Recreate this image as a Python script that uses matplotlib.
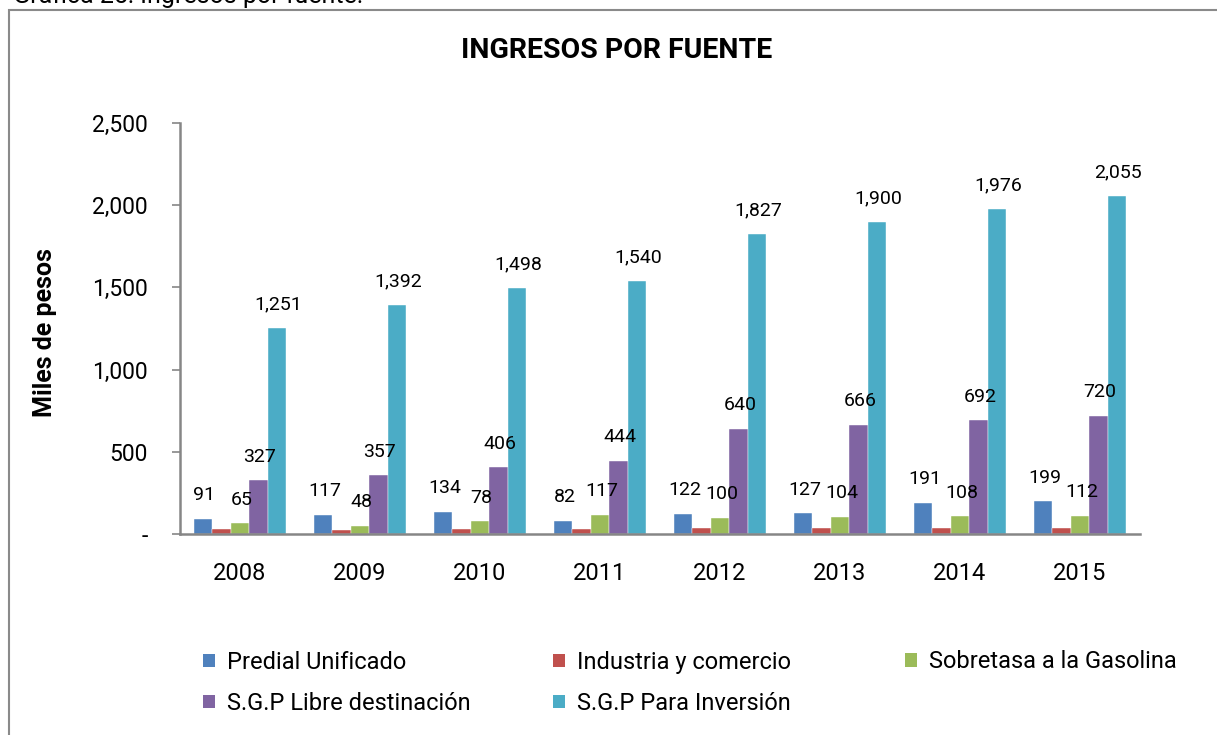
import numpy as np
import matplotlib
matplotlib.use("Agg")
import matplotlib.pyplot as plt
from matplotlib.patches import Rectangle, Patch
from matplotlib.ticker import FuncFormatter

plt.rcParams['font.family'] = ['Roboto', 'DejaVu Sans']

# ---- data ----
years = ['2008', '2009', '2010', '2011', '2012', '2013', '2014', '2015']
predial = [91, 117, 134, 82, 122, 127, 191, 199]
industria = [30, 22, 30, 30, 34, 34, 34, 34]
sobretasa = [65, 48, 78, 117, 100, 104, 108, 112]
sgp_libre = [327, 357, 406, 444, 640, 666, 692, 720]
sgp_inversion = [1251, 1392, 1498, 1540, 1827, 1900, 1976, 2055]

series_names = ['Predial Unificado', 'Industria y comercio', 'Sobretasa a la Gasolina',
                'S.G.P Libre destinación', 'S.G.P Para Inversión']
series_vals = [predial, industria, sobretasa, sgp_libre, sgp_inversion]
series_labelled = [True, False, True, True, True]
colors = ['#4F81BD', '#C0504D', '#9BBB59', '#8064A2', '#4BACC6']

W, H = 1217, 735
fig = plt.figure(figsize=(W / 100, H / 100), dpi=100)

# outer chart frame (extends past the right/bottom edge)
fig.patches.append(Rectangle((9 / W, -0.05), 1.2, 1 - 9.5 / H + 0.05,
                             transform=fig.transFigure, fill=False,
                             edgecolor='#8a8a8a', lw=1.5))

# caption above the frame, cut by the top edge as in the source
fig.text(13 / W, 1 - 3 / H, 'Gráfica 25: Ingresos por fuente.', fontsize=18,
         ha='left', va='baseline', color='black')

ax = fig.add_axes([180 / W, 1 - 534 / H, 960 / W, 411 / H])

x = np.arange(len(years))
bw = 0.154
for i, (name, vals, col) in enumerate(zip(series_names, series_vals, colors)):
    pos = x + (i - 2) * bw
    ax.bar(pos, vals, bw, color=col, label=name, edgecolor='white', linewidth=0.3)
    if series_labelled[i]:
        for xp, v in zip(pos, vals):
            ax.annotate(f'{v:,}', (xp, v), xytext=(1, 17), textcoords='offset points',
                        ha='center', va='center', fontsize=14)

ax.set_xlim(-0.5, len(years) - 0.5)
ax.set_ylim(0, 2500)
ax.set_yticks(np.arange(0, 2501, 500))
ax.yaxis.set_major_formatter(FuncFormatter(lambda v, p: '-' if v == 0 else f'{int(v):,}'))
ax.set_xticks(x)
ax.set_xticklabels(years)
ax.tick_params(axis='x', length=0, pad=20, labelsize=17)
ax.tick_params(axis='y', length=6, width=1.2, color='#868686', pad=17, labelsize=16.5)

for s in ['top', 'right']:
    ax.spines[s].set_visible(False)
for s in ['left', 'bottom']:
    ax.spines[s].set_color('#868686')
    ax.spines[s].set_linewidth(1.8)

ax.set_ylabel('Miles de pesos', fontsize=18, fontweight='bold')
ax.yaxis.set_label_coords(-0.128, 0.49)

fig.text(617 / W, 1 - 50 / H, 'INGRESOS POR FUENTE', fontsize=20.5, fontweight='bold',
         ha='center', va='center')

# legend, three columns placed like the reference
handles = [Patch(facecolor=c, label=n) for c, n in zip(colors, series_names)]
cols = [([handles[0], handles[3]], 203, 683),
        ([handles[1], handles[4]], 553, 683),
        ([handles[2]], 905, 662)]
for hs, lx, ly in cols:
    fig.legend(handles=hs, loc='center left', bbox_to_anchor=(lx / W, 1 - ly / H),
               frameon=False, fontsize=17, handlelength=0.5, handleheight=0.5,
               handletextpad=0.5, labelspacing=0.75, borderpad=0, borderaxespad=0)

fig.savefig('out.png', dpi=100)
